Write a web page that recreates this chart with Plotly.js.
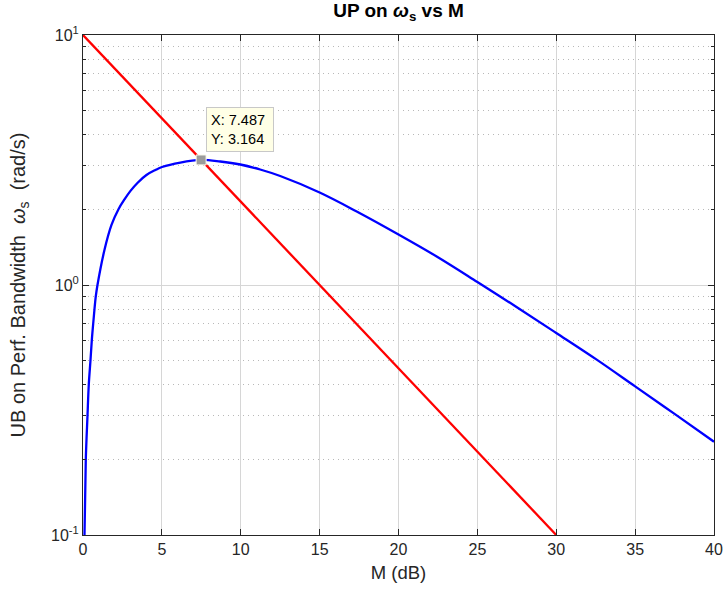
<!DOCTYPE html>
<html>
<head>
<meta charset="utf-8">
<script src="https://cdn.plot.ly/plotly-3.0.1.min.js"></script>
<style>html,body{margin:0;padding:0;background:#fff;}#chart{width:725px;height:594px;}</style>
</head>
<body>
<div id="chart"></div>
<script>
// Upper bound curve (blue)
var blueM = [0.03, 0.095, 0.177, 0.285, 0.367, 0.475, 0.557, 0.646, 0.728, 0.81, 0.918, 1.36, 1.80, 2.25, 2.63, 3.01, 3.45, 4.02, 4.59, 5.01, 6.17, 7.487, 8.70, 9.97, 11.23, 12.50, 15.0, 17.35, 20.0, 22.42, 25.0, 27.48, 30.0, 32.54, 35.0, 37.5, 40.0];
var blueY = [0.03, 0.1, 0.2, 0.3, 0.4, 0.5, 0.6, 0.7, 0.8, 0.9, 1.0, 1.38, 1.735, 2.01, 2.20, 2.38, 2.56, 2.754, 2.884, 2.965, 3.09, 3.164, 3.119, 3.034, 2.897, 2.729, 2.344, 1.968, 1.592, 1.300, 1.028, 0.817, 0.643, 0.504, 0.393, 0.305, 0.236];
// Straight line on log scale (red)
var redM = [0, 30];
var redY = [10, 0.1];
// Data tip
var tipM = [7.487];
var tipY = [3.164];
var xTicks = [0, 5, 10, 15, 20, 25, 30, 35, 40];
var yTicks = [0.1, 1, 10];
var yTickText = ['10<sup>-1</sup>', '10<sup>0</sup>', '10<sup>1</sup>'];
var yMinor = [0.2,0.3,0.4,0.5,0.6,0.7,0.8,0.9,2,3,4,5,6,7,8,9];

var axColor = '#262626';
var fam = 'Liberation Sans, Arial, Helvetica, sans-serif';

var traces = [
  {x: blueM, y: blueY, type: 'scatter', mode: 'lines', line: {color: '#0000ff', width: 2.3, shape: 'spline', smoothing: 1}, hoverinfo: 'skip'},
  {x: redM, y: redY, type: 'scatter', mode: 'lines', line: {color: '#ff0000', width: 2.3}, hoverinfo: 'skip'},
  {x: tipM, y: tipY, type: 'scatter', mode: 'markers', marker: {symbol: 'square', size: 10, color: '#9b9b9b', line: {color: '#fffff0', width: 1}}, hoverinfo: 'skip', cliponaxis: false}
];

var layout = {
  width: 725, height: 594,
  margin: {l: 83, r: 11, t: 35, b: 59},
  paper_bgcolor: '#ffffff', plot_bgcolor: '#ffffff',
  showlegend: false,
  font: {family: fam, size: 16, color: axColor},
  title: {text: '<b>UP on <i>ω</i><sub>s</sub> vs M</b>', x: 0.5, xref: 'paper', xanchor: 'center', y: 0.982, yref: 'container', yanchor: 'middle', font: {family: fam, size: 19, color: '#000000'}},
  xaxis: {
    range: [0, 40], tickmode: 'array', tickvals: xTicks, ticktext: xTicks.map(String),
    showline: true, linecolor: axColor, linewidth: 1, mirror: 'ticks',
    ticks: 'inside', ticklen: 6, tickcolor: axColor,
    showgrid: true, gridcolor: '#d6d6d6', gridwidth: 1, zeroline: false,
    tickfont: {family: fam, size: 16, color: axColor},
    title: {text: 'M (dB)', font: {family: fam, size: 18.5, color: axColor}, standoff: 8}
  },
  yaxis: {
    type: 'log', range: [-1, 1], tickmode: 'array', tickvals: yTicks, ticktext: yTickText,
    showline: true, linecolor: axColor, linewidth: 1, mirror: 'ticks',
    ticks: 'inside', ticklen: 6, tickcolor: axColor,
    showgrid: true, gridcolor: '#d6d6d6', gridwidth: 1, zeroline: false,
    tickfont: {family: fam, size: 16, color: axColor},
    minor: {tickmode: 'array', tickvals: yMinor, ticks: 'inside', ticklen: 3, tickcolor: axColor, showgrid: true, gridcolor: '#b8b8b8', griddash: '1px,4px', gridwidth: 1},
    title: {text: 'UB on Perf. Bandwidth&nbsp; <i>ω</i><sub>s</sub>&nbsp; (rad/s)', font: {family: fam, size: 20, color: axColor}, standoff: 20}
  },
  annotations: [
    {x: 7.487, y: Math.log10(3.164), xref: 'x', yref: 'y', text: 'X: 7.487&nbsp;<br>Y: 3.164&nbsp;', showarrow: false,
     xanchor: 'left', yanchor: 'bottom', xshift: 5, yshift: 8, align: 'left',
     bgcolor: '#ffffe6', bordercolor: '#c8c8c8', borderwidth: 1, borderpad: 4,
     font: {family: fam, size: 14.5, color: '#000000'}}
  ]
};

Plotly.newPlot('chart', traces, layout, {staticPlot: true, displayModeBar: false});
</script>
</body>
</html>
